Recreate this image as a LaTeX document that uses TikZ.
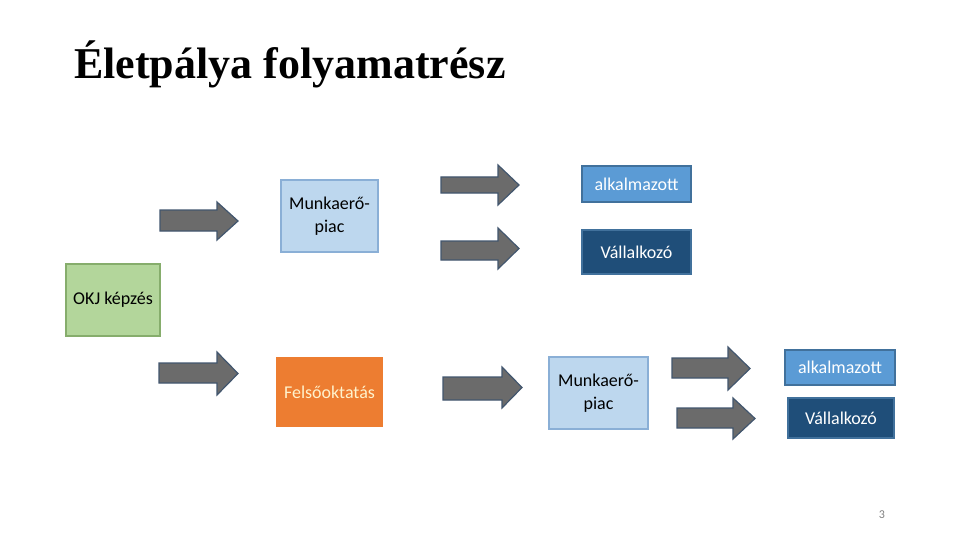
\documentclass[tikz,border=0pt]{standalone}
\usepackage{fontspec}
\setmainfont{Carlito}
\newfontfamily\titlefont{Liberation Serif}
\definecolor{arrfill}{HTML}{6B6B6B}
\definecolor{arrline}{HTML}{42566E}
\definecolor{okjfill}{HTML}{B3D69B}
\definecolor{okjline}{HTML}{86AD6C}
\definecolor{mpfill}{HTML}{BDD7EE}
\definecolor{mpline}{HTML}{8AAFD6}
\definecolor{alkfill}{HTML}{5B9BD5}
\definecolor{alkline}{HTML}{41719C}
\definecolor{vallfill}{HTML}{1F4E79}
\definecolor{vallline}{HTML}{41719C}
\definecolor{fofill}{HTML}{ED7D31}
\definecolor{fotext}{HTML}{FFF2CC}
\newcommand{\blockarrow}[7]{% x0, xh, xt, sy1, sy2, hy1, hy2
  \draw[blockarr] (#1,#4) -- (#2,#4) -- (#2,#6) -- (#3,{(#6+#7)/2}) -- (#2,#7) -- (#2,#5) -- (#1,#5) -- cycle;}
\begin{document}
\begin{tikzpicture}[x=1pt,y=-1pt,
  blockarr/.style={fill=arrfill,draw=arrline,line width=1.2pt,line join=miter},
  box/.style={rectangle,line width=1.2pt,inner sep=0pt,align=center,font=\fontsize{18}{23}\selectfont},
  okj/.style={box,fill=okjfill,draw=okjline,text=black},
  mp/.style={box,fill=mpfill,draw=mpline,text=black},
  alk/.style={box,fill=alkfill,draw=alkline,text=white},
  vall/.style={box,fill=vallfill,draw=vallline,text=white},
  fo/.style={box,fill=fofill,draw=fofill,text=fotext}]
\useasboundingbox (0,0) rectangle (960,540);
\node[anchor=base west,inner sep=0pt,font=\titlefont\bfseries\fontsize{44}{50}\selectfont] (title) at (74,79) {Életpálya folyamatrész};
\node[okj,minimum width=94pt,minimum height=72pt] (okj) at (113,300) {OKJ képzés};
\node[mp,minimum width=97pt,minimum height=72pt] (mp1) at (329.5,216) {Munkaerő-\\piac};
\node[alk,minimum width=109pt,minimum height=36pt] (alk1) at (636.5,184) {alkalmazott};
\node[vall,minimum width=109pt,minimum height=44pt] (vall1) at (636.5,252) {Vállalkozó};
\node[fo,minimum width=105pt,minimum height=68pt] (fo) at (329.5,392) {Felsőoktatás};
\node[mp,minimum width=99pt,minimum height=72pt] (mp2) at (598.5,393) {Munkaerő-\\piac};
\node[alk,minimum width=110pt,minimum height=35pt] (alk2) at (840,367.5) {alkalmazott};
\node[vall,minimum width=106pt,minimum height=40pt] (vall2) at (841,418) {Vállalkozó};
\blockarrow{160}{217}{238}{210}{231}{202}{240}
\blockarrow{441}{498}{519}{177}{193}{165}{205}
\blockarrow{441}{498}{519}{241}{260}{228}{269}
\blockarrow{159}{217}{238}{363}{383}{352}{395}
\blockarrow{443}{502}{522}{377}{400}{367}{408}
\blockarrow{672}{728}{750}{358}{378}{347}{390}
\blockarrow{677}{733}{755}{408}{428}{398}{439}
\node[text=gray,font=\fontsize{12}{14}\selectfont] (page) at (882,515) {3};
\end{tikzpicture}
\end{document}
